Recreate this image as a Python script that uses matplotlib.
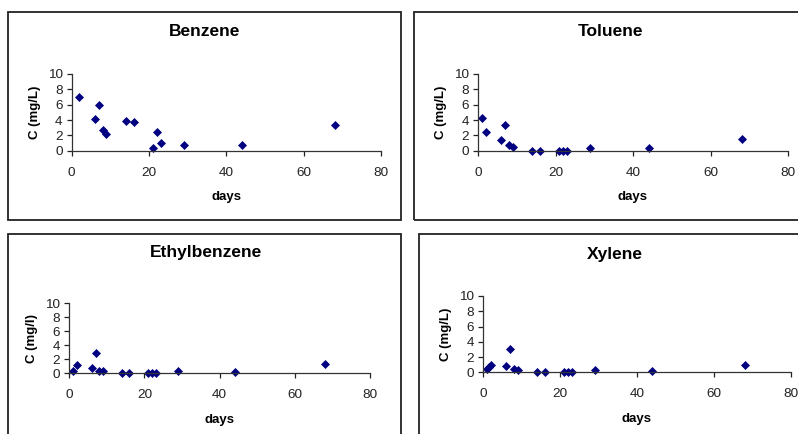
import numpy as np
import matplotlib
matplotlib.use('Agg')
import matplotlib.pyplot as plt
from matplotlib.patches import Rectangle

plt.rcParams['font.family'] = ['Liberation Sans', 'DejaVu Sans']

# sampling days and measured concentrations for each compound
benzene_days = [2, 6, 7, 8, 9, 14, 16, 21, 22, 23, 29, 44, 68]
benzene_c = [7.0, 4.1, 6.0, 2.7, 2.2, 3.9, 3.7, 0.4, 2.5, 1.0, 0.8, 0.8, 3.4]

toluene_days = [1, 2, 6, 7, 8, 9, 14, 16, 21, 22, 23, 29, 44, 68]
toluene_c = [4.3, 2.5, 1.4, 3.3, 0.7, 0.5, 0, 0, 0, 0, 0, 0.3, 0.3, 1.5]

ethyl_days = [1, 2, 6, 7, 8, 9, 14, 16, 21, 22, 23, 29, 44, 68]
ethyl_c = [0.3, 1.2, 0.8, 2.9, 0.3, 0.3, 0, 0, 0, 0, 0, 0.3, 0.15, 1.4]

xylene_days = [1, 1.5, 2, 6, 7, 8, 9, 14, 16, 21, 22, 23, 29, 44, 68]
xylene_c = [0.4, 0.7, 1.0, 0.8, 3.1, 0.4, 0.3, 0, 0, 0, 0, 0, 0.3, 0.15, 1.0]

W, H = 798, 434
fig = plt.figure(figsize=(W / 100, H / 100), dpi=100)

def box(x0, y0, x1, y1):
    # frame around each chart, given in pixels from top-left
    r = Rectangle((x0 / W, 1 - y1 / H), (x1 - x0) / W, (y1 - y0) / H,
                  transform=fig.transFigure, fill=False, lw=1.3,
                  edgecolor='#222222', clip_on=False)
    fig.patches.append(r)

def panel(rect, days, conc, title, title_xy, ylabel):
    x0, y0, x1, y1 = rect
    ax = fig.add_axes([x0 / W, 1 - y1 / H, (x1 - x0) / W, (y1 - y0) / H])
    ax.plot(days, conc, 'D', color='#000080', ms=3.9, mew=0.5, clip_on=False)
    ax.set_xlim(0, 80)
    ax.set_ylim(0, 10)
    ax.set_xticks([0, 20, 40, 60, 80])
    ax.set_yticks([0, 2, 4, 6, 8, 10])
    for s in ['top', 'right']:
        ax.spines[s].set_visible(False)
    for s in ['left', 'bottom']:
        ax.spines[s].set_linewidth(0.9)
        ax.spines[s].set_color('#333333')
    ax.tick_params(axis='x', direction='out', length=3.5, width=0.9,
                   pad=8, labelsize=9.7, colors='#222222')
    ax.tick_params(axis='y', direction='out', length=3.5, width=0.9,
                   pad=3, labelsize=9.7, colors='#222222')
    ax.set_xlabel('days', fontsize=9.5, fontweight='bold', labelpad=9)
    ax.set_ylabel(ylabel, fontsize=9.5, fontweight='bold', labelpad=5)
    fig.text(title_xy[0] / W, 1 - title_xy[1] / H, title, fontsize=12.5,
             fontweight='bold', ha='center', va='center')
    return ax

box(8, 12, 401, 220)
box(414, 12, 812, 220)
box(8, 234, 401, 446)
box(419, 234, 812, 446)

panel((71.7, 74, 381, 150.7), benzene_days, benzene_c, 'Benzene', (205, 32), 'C (mg/L)')
panel((478, 74, 788, 150.7), toluene_days, toluene_c, 'Toluene', (611, 32), 'C (mg/L)')
panel((69.3, 303.3, 370, 373.3), ethyl_days, ethyl_c, 'Ethylbenzene', (206, 253), 'C (mg/l)')
panel((483, 296, 791, 372.3), xylene_days, xylene_c, 'Xylene', (615, 254), 'C (mg/L)')

fig.savefig('out.png', dpi=100)
